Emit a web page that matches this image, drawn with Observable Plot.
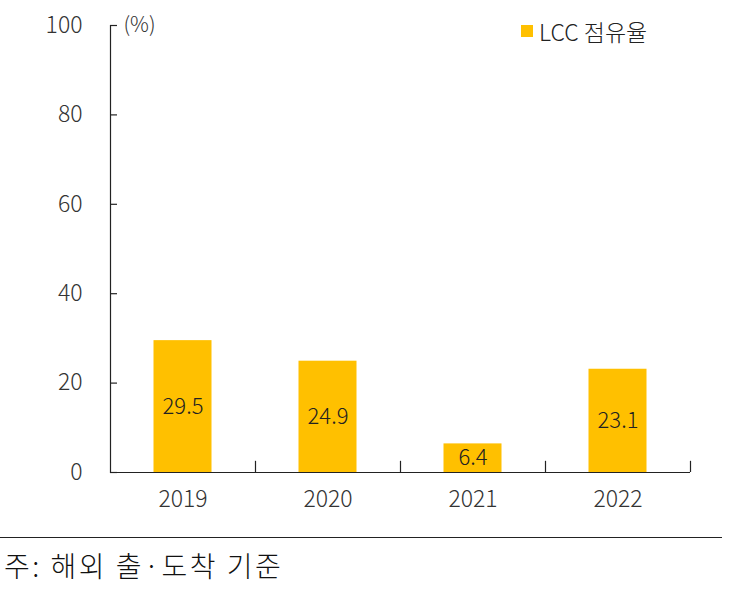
<!DOCTYPE html>
<html><head><meta charset="utf-8">
<script src="https://cdn.jsdelivr.net/npm/d3@7"></script>
<script src="https://cdn.jsdelivr.net/npm/@observablehq/plot@0.6"></script>
<style>
body{margin:0;background:#fff;font-family:"Noto Sans CJK KR","Noto Sans",sans-serif;}
#wrap{position:relative;width:730px;}
#legend{position:absolute;left:521px;top:14px;font-size:23px;font-weight:300;color:#222;display:flex;align-items:center;}
#legend span.sw{display:inline-block;width:12px;height:12px;background:#FFC000;margin-right:6px;}
#cap{width:722px;border-top:1.5px solid #222;padding-top:7px;padding-left:4px;font-size:28px;letter-spacing:2.5px;font-weight:300;color:#111;box-sizing:border-box;}
</style></head>
<body>
<div id="wrap"><div id="chart"></div><div id="legend"><span class="sw"></span>LCC 점유율</div></div>
<div id="cap">주: 해외 출·도착 기준</div>
<script>
const years = ["2019","2020","2021","2022"];
const values = [29.5, 24.9, 6.4, 23.1];
const yTicks = [0,20,40,60,80,100];
const seriesName = "LCC 점유율";
const data = years.map((y,i)=>({i, year:y, value:values[i]}));
const halfBar = 0.2;
const chart = Plot.plot({
  width:730, height:537,
  marginLeft:110, marginRight:40, marginTop:25, marginBottom:65,
  style:{fontFamily:'"Noto Sans CJK KR","Noto Sans",sans-serif', fontSize:"23px", fontWeight:300, color:"#333", background:"#fff"},
  x:{type:"linear", domain:[-0.5, years.length-0.5]},
  y:{domain:[0,100]},
  marks:[
    Plot.rectY(data,{x1:d=>d.i-halfBar, x2:d=>d.i+halfBar, y:"value", fill:"#FFC000"}),
    Plot.text(data,{x:"i", y:d=>d.value/2, text:d=>d.value.toFixed(1), fill:"#222", fontSize:22, fontWeight:300}),
    Plot.ruleY([0],{stroke:"#222", strokeWidth:1.2}),
    Plot.frame({anchor:"left", stroke:"#222", strokeWidth:1.2}),
    Plot.ruleX(years.map((_,i)=>i+0.5),{y1:0, y2:2.5, stroke:"#222", strokeWidth:1.2}),
    Plot.axisY({ticks:yTicks, tickSize:-7, tickPadding:35, stroke:"#222", strokeWidth:1.2, label:null, fontSize:23, fill:"#333"}),
    Plot.axisX({ticks:years.map((_,i)=>i), tickFormat:i=>years[i], tickSize:0, tickPadding:18, label:null, fontSize:23, fill:"#333"}),
    Plot.text(["(%)"],{frameAnchor:"top-left", dx:13, dy:0, text:d=>d, fill:"#333", fontSize:21, fontWeight:300, lineAnchor:"middle"})
  ]
});
document.getElementById("chart").appendChild(chart);
</script>
</body></html>
